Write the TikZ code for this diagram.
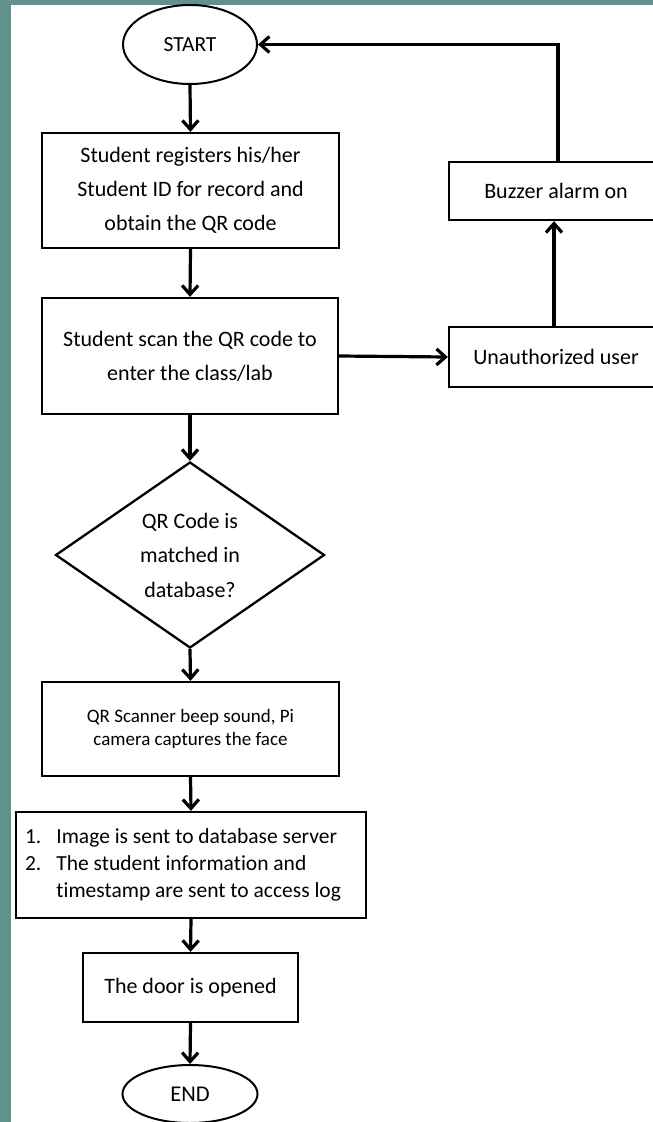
\documentclass[tikz,border=0pt]{standalone}
\usepackage{fontspec}
\setmainfont{Carlito}[Ligatures={NoCommon}]
\usetikzlibrary{shapes.geometric,arrows.meta}
\definecolor{teal1}{RGB}{98,145,140}
\tikzset{
  stepbox/.style={draw=black, line width=2.3pt, fill=white, rectangle, align=center, inner sep=0pt,
     font=\fontsize{22}{34}\selectfont},
  term/.style={draw=black, line width=2pt, fill=white, ellipse, inner sep=0pt, font=\fontsize{21.5}{26}\selectfont},
  decide/.style={draw=black, line width=2.3pt, fill=white, diamond, inner sep=0pt, shape aspect=1.446, align=center,
     font=\fontsize{22}{34.5}\selectfont},
  flow/.style={line width=3.2pt, -{Straight Barb[length=9pt,width=16pt,line width=3.2pt]}}
}
\begin{document}
\begin{tikzpicture}[x=1pt,y=-1pt]
\useasboundingbox (0,0) rectangle (653,1122);
\clip (0,0) rectangle (653,1122);
\fill[teal1] (0,0) rectangle (653,1122);
\fill[white] (11,5) rectangle (660,1130);

\node[term, minimum width=134pt, minimum height=79pt] (start) at (190,44.5) {START};
\node[stepbox, minimum width=297pt, minimum height=115pt] (reg) at (190.5,190.5)
  {Student registers his/her\\Student ID for record and\\obtain the QR code};
\node[stepbox, minimum width=296pt, minimum height=116pt] (scan) at (190,356)
  {Student scan the QR code to\\enter the class/lab};
\node[decide, minimum width=269pt, minimum height=186pt] (match) at (190,555)
  {QR Code is\\matched in\\database?};
\node[stepbox, minimum width=297pt, minimum height=94pt, font=\fontsize{19}{23}\selectfont] (beep) at (190.5,729)
  {QR Scanner beep sound, Pi\\camera captures the face};
\node[stepbox, minimum width=350pt, minimum height=106pt, font=\fontsize{21.5}{27}\selectfont] (send) at (191,865)
  {\begin{tabular}{@{}l@{\hspace{15pt}}l@{\hspace{16pt}}}
  1. & Image is sent to database server\\
  2. & The student information and\\
     & timestamp are sent to access log
  \end{tabular}};
\node[stepbox, minimum width=215pt, minimum height=69pt] (door) at (190.5,987.5) {The door is opened};
\node[term, minimum width=135pt, minimum height=58pt, font=\fontsize{22.5}{26}\selectfont] (end) at (190,1094) {END};

\node[stepbox, minimum width=214pt, minimum height=60pt] (unauth) at (556,357) {Unauthorized user};
\node[stepbox, minimum width=214pt, minimum height=58pt] (buzz) at (556,191) {Buzzer alarm on};

\draw[flow] (start.south) -- (reg.north);
\draw[flow] (reg.south) -- (scan.north);
\draw[flow] (scan.south) -- (match.north);
\draw[flow] (match.south) -- (beep.north);
\draw[flow] (beep.south) -- (send.north);
\draw[flow] (send.south) -- (door.north);
\draw[flow] (door.south) -- (end.north);
\draw[flow] (scan.east) -- (unauth.west);
\draw[flow] ([xshift=-2pt]unauth.north) -- ([xshift=-2pt]buzz.south);
\draw[flow] ([xshift=2pt]buzz.north) |- (start.east);
\end{tikzpicture}
\end{document}
